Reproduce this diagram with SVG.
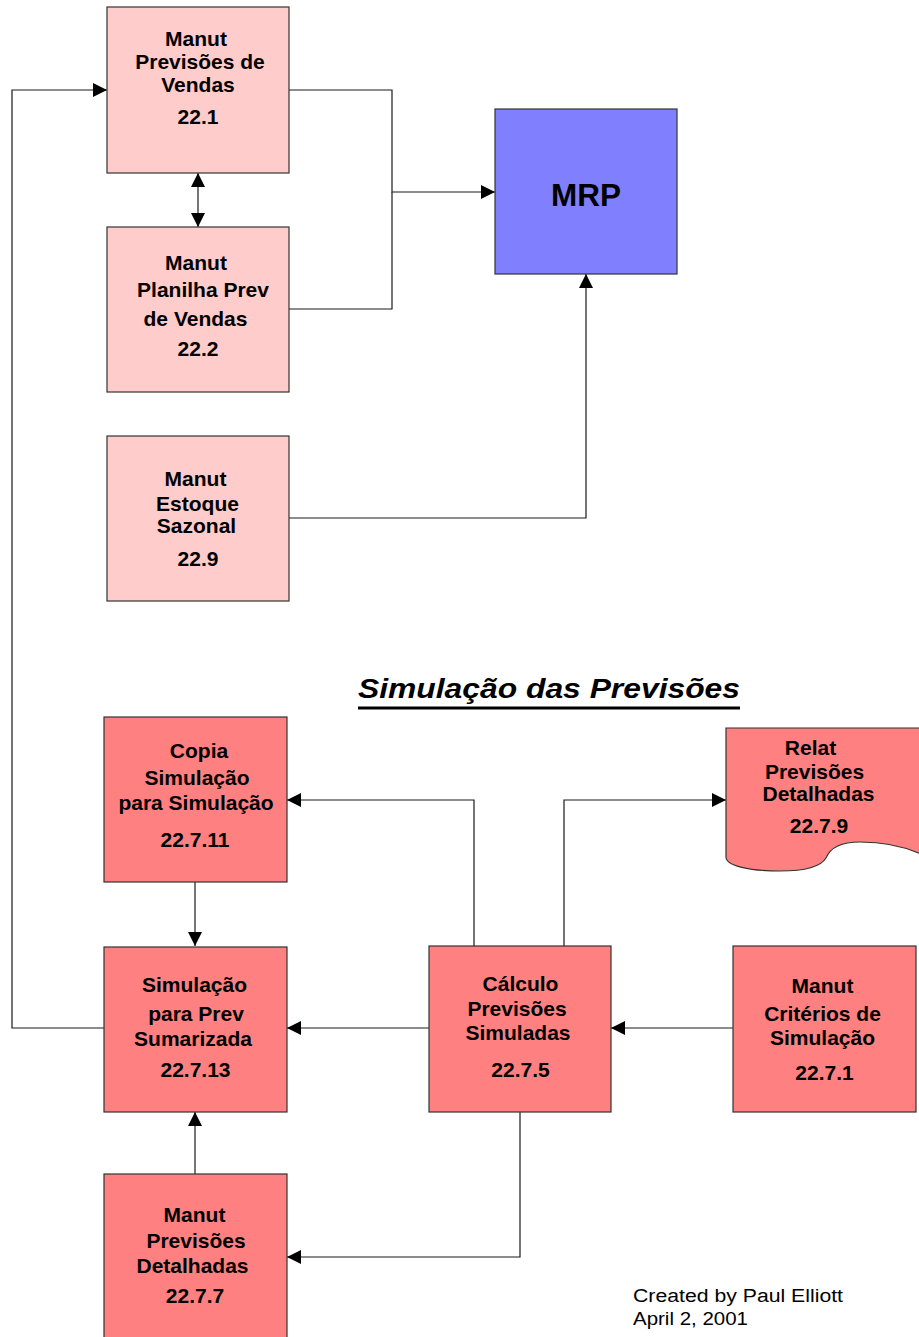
<svg xmlns="http://www.w3.org/2000/svg" width="919" height="1337" viewBox="0 0 919 1337">
  <style>
    .box { stroke: #333333; stroke-width: 1.2; }
    .light { fill: #FFCCCC; }
    .red { fill: #FF8080; }
    .blue { fill: #8080FF; }
    .lbl { font-family: "Liberation Sans", Arial, sans-serif; font-weight: bold; font-size: 21px; fill: #000; text-anchor: middle; }
    .wire { fill: none; stroke: #1a1a1a; stroke-width: 1.2; }
    .title { font-family: "Liberation Sans", Arial, sans-serif; font-weight: bold; font-style: italic; font-size: 27.5px; fill: #000; }
    .note { font-family: "Liberation Sans", Arial, sans-serif; font-size: 18px; fill: #000; }
  </style>
  <defs>
    <marker id="arrow" markerUnits="userSpaceOnUse" markerWidth="14" markerHeight="14" refX="14" refY="7" orient="auto-start-reverse">
      <path d="M0,0 L14,7 L0,14 Z" fill="#000"/>
    </marker>
  </defs>

  <rect width="919" height="1337" fill="#fff"/>

  <!-- connectors -->
  <g id="connectors">
    <line class="wire" x1="198" y1="173" x2="198" y2="227" marker-start="url(#arrow)" marker-end="url(#arrow)"/>
    <path class="wire" d="M289,90 H392 V192 H495" marker-end="url(#arrow)"/>
    <path class="wire" d="M289,309 H392 V192"/>
    <path class="wire" d="M289,518 H586 V274" marker-end="url(#arrow)"/>
    <path class="wire" d="M104,1028 H12 V90 H107" marker-end="url(#arrow)"/>
    <path class="wire" d="M474,946 V800 H287" marker-end="url(#arrow)"/>
    <path class="wire" d="M564,946 V800 H726" marker-end="url(#arrow)"/>
    <path class="wire" d="M195,882 V946" marker-end="url(#arrow)"/>
    <path class="wire" d="M429,1028 H287" marker-end="url(#arrow)"/>
    <path class="wire" d="M733,1028 H611" marker-end="url(#arrow)"/>
    <path class="wire" d="M520,1112 V1257 H287" marker-end="url(#arrow)"/>
    <path class="wire" d="M195,1174 V1112" marker-end="url(#arrow)"/>
  </g>

  <!-- sales forecast maintenance -->
  <g id="n22-1">
    <rect class="box light" x="107" y="7" width="182" height="166"/>
    <text class="lbl" x="196" y="46">Manut</text>
    <text class="lbl" x="200" y="69">Previsões de</text>
    <text class="lbl" x="198" y="92">Vendas</text>
    <text class="lbl" x="198" y="124">22.1</text>
  </g>

  <g id="n22-2">
    <rect class="box light" x="107" y="227" width="182" height="165"/>
    <text class="lbl" x="196" y="270">Manut</text>
    <text class="lbl" x="203" y="297">Planilha Prev</text>
    <text class="lbl" x="195.5" y="326">de Vendas</text>
    <text class="lbl" x="198" y="356">22.2</text>
  </g>

  <g id="mrp">
    <rect class="box blue" x="495" y="109" width="182" height="165"/>
    <text class="lbl" x="586" y="206" style="font-size:31.5px">MRP</text>
  </g>

  <g id="n22-9">
    <rect class="box light" x="107" y="436" width="182" height="165"/>
    <text class="lbl" x="195.5" y="486">Manut</text>
    <text class="lbl" x="197.5" y="511">Estoque</text>
    <text class="lbl" x="196.5" y="533">Sazonal</text>
    <text class="lbl" x="198" y="566">22.9</text>
  </g>

  <!-- section heading -->
  <g id="heading">
    <text class="title" x="358" y="698" textLength="382" lengthAdjust="spacingAndGlyphs">Simulação das Previsões</text>
    <rect x="358" y="706.5" width="382" height="3" fill="#000"/>
  </g>

  <g id="n22-7-11">
    <rect class="box red" x="104" y="717" width="183" height="165"/>
    <text class="lbl" x="199" y="758">Copia</text>
    <text class="lbl" x="197" y="785">Simulação</text>
    <text class="lbl" x="196" y="810">para Simulação</text>
    <text class="lbl" x="195" y="847">22.7.11</text>
  </g>

  <g id="n22-7-9">
    <path class="box red" d="M726,728 H925 V856 C905,846 880,842 860,842 C840,842 830,848 826,858 C820,868 800,871 780,871 C750,871 726,866 726,857 Z"/>
    <text class="lbl" x="810.5" y="755">Relat</text>
    <text class="lbl" x="814.5" y="778.5">Previsões</text>
    <text class="lbl" x="818.5" y="801">Detalhadas</text>
    <text class="lbl" x="819" y="833">22.7.9</text>
  </g>

  <g id="n22-7-13">
    <rect class="box red" x="104" y="947" width="183" height="165"/>
    <text class="lbl" x="194.5" y="992">Simulação</text>
    <text class="lbl" x="196" y="1021">para Prev</text>
    <text class="lbl" x="193" y="1046">Sumarizada</text>
    <text class="lbl" x="195.5" y="1077">22.7.13</text>
  </g>

  <g id="n22-7-5">
    <rect class="box red" x="429" y="946" width="182" height="166"/>
    <text class="lbl" x="520.5" y="991">Cálculo</text>
    <text class="lbl" x="517" y="1016">Previsões</text>
    <text class="lbl" x="518" y="1040">Simuladas</text>
    <text class="lbl" x="520.5" y="1077">22.7.5</text>
  </g>

  <g id="n22-7-1">
    <rect class="box red" x="733" y="946" width="183" height="166"/>
    <text class="lbl" x="822.5" y="993">Manut</text>
    <text class="lbl" x="822.5" y="1021">Critérios de</text>
    <text class="lbl" x="822.5" y="1045">Simulação</text>
    <text class="lbl" x="824.5" y="1080">22.7.1</text>
  </g>

  <g id="n22-7-7">
    <rect class="box red" x="104" y="1174" width="183" height="166"/>
    <text class="lbl" x="194.5" y="1222">Manut</text>
    <text class="lbl" x="196" y="1248">Previsões</text>
    <text class="lbl" x="192.5" y="1273">Detalhadas</text>
    <text class="lbl" x="195" y="1303">22.7.7</text>
  </g>

  <!-- authorship note -->
  <g id="credit">
    <text class="note" x="633" y="1302" textLength="210" lengthAdjust="spacingAndGlyphs">Created by Paul Elliott</text>
    <text class="note" x="633" y="1325" textLength="115" lengthAdjust="spacingAndGlyphs">April 2, 2001</text>
  </g>
</svg>
